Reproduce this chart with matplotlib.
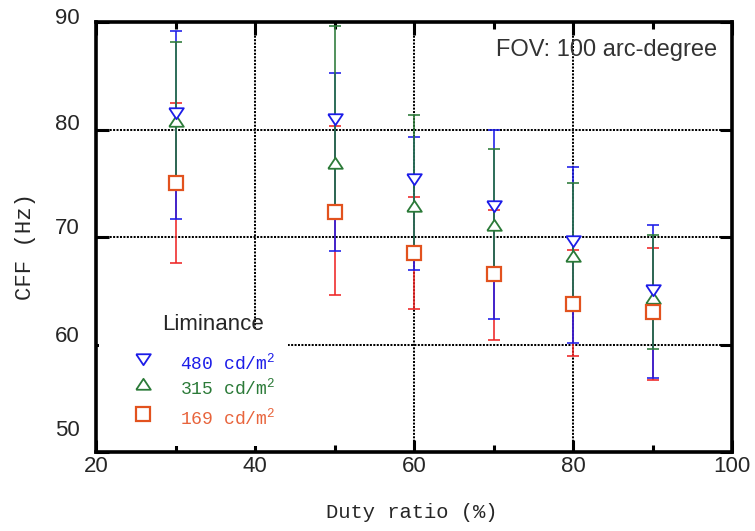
import matplotlib
matplotlib.use("Agg")
import matplotlib.pyplot as plt
from matplotlib.patches import Rectangle
from matplotlib.lines import Line2D
from matplotlib.transforms import blended_transform_factory, ScaledTranslation

# Critical flicker frequency vs duty ratio for three luminance levels
duty = [30, 50, 60, 70, 80, 90]

cff_480 = [81.5, 81.0, 75.4, 72.9, 69.6, 65.1]
hi_480 = [89.2, 85.3, 79.3, 80.0, 76.5, 71.1]
lo_480 = [71.7, 68.7, 66.9, 62.4, 60.1, 56.9]

cff_315 = [80.8, 76.9, 72.9, 71.1, 68.2, 64.3]
hi_315 = [88.1, 89.6, 81.35, 78.2, 75.0, 70.2]
lo_315 = [75.0, 72.5, 68.6, 66.7, 63.9, 59.6]

cff_169 = [75.0, 72.3, 68.5, 66.6, 63.8, 63.0]
hi_169 = [82.5, 80.3, 73.7, 72.5, 68.8, 69.0]
lo_169 = [67.6, 64.6, 63.3, 60.4, 58.9, 56.7]

legend_labels = ["480 cd/m", "315 cd/m", "169 cd/m"]
x_ticks = [20, 40, 60, 80, 100]
y_ticks = [50, 60, 70, 80, 90]

W, H = 755, 531
fig = plt.figure(figsize=(W / 100, H / 100), dpi=100)
fig.patch.set_facecolor("white")


def fx(px):
    return px / W


def fy(py):
    return 1 - py / H


ax = fig.add_axes([fx(96), fy(452), fx(732) - fx(96), fy(22) - fy(452)])
ax.set_xlim(20, 100)
ax.set_ylim(50, 90)

BLUE = "#1c1ce8"
GREEN = "#2b7a38"
RED_BAR = "#ee2626"
ORANGE = "#e2521e"
TXT = "#262626"

# grid
ax.set_xticks(x_ticks)
ax.set_xticks([30, 50, 70, 90], minor=True)
ax.set_yticks(y_ticks)
ax.grid(True, which="major", color="black", linestyle=(0, (1.0, 0.7)), linewidth=1.45)
ax.set_axisbelow(True)

for sp in ax.spines.values():
    sp.set_linewidth(2.6)
    sp.set_zorder(5)

ax.tick_params(which="major", direction="in", length=9, width=2.2,
               top=True, right=True, labelbottom=False, labelleft=False)
ax.tick_params(which="minor", direction="in", length=5, width=2.2,
               top=True, right=False, left=False, bottom=True)


def err(c, hi, lo):
    return [[m - l for m, l in zip(c, lo)], [h - m for m, h in zip(c, hi)]]


# error bars (red beneath blue beneath green)
for c, hi, lo, col, z in [(cff_169, hi_169, lo_169, RED_BAR, 2.0),
                          (cff_480, hi_480, lo_480, BLUE, 2.1),
                          (cff_315, hi_315, lo_315, GREEN, 2.2)]:
    ax.errorbar(duty, c, yerr=err(c, hi, lo), fmt="none", ecolor=col,
                elinewidth=1.15, capsize=4, capthick=1.15, zorder=z)

down_tri = [(-1, 0.72), (1, 0.72), (0, -0.78), (-1, 0.72)]
up_tri = [(-1, -0.72), (1, -0.72), (0, 0.78), (-1, -0.72)]

ax.plot(duty, cff_315, linestyle="none", marker=up_tri, markersize=10.5,
        markerfacecolor="white", markeredgecolor=GREEN, markeredgewidth=1.3, zorder=3)
ax.plot(duty, cff_480, linestyle="none", marker=down_tri, markersize=10.5,
        markerfacecolor="white", markeredgecolor=BLUE, markeredgewidth=1.3, zorder=3.1)
ax.plot(duty, cff_169, linestyle="none", marker="s", markersize=10.3,
        markerfacecolor="white", markeredgecolor=ORANGE, markeredgewidth=1.6, zorder=3.2)

# tick labels
ty = blended_transform_factory(fig.transFigure, ax.transData)
y_raise = {90: 4, 80: 5, 70: 8, 60: 8, 50: 21}
for v in y_ticks:
    ax.text(fx(80), v, str(v), transform=ty + ScaledTranslation(0, y_raise[v] / 100, fig.dpi_scale_trans),
            ha="right", va="center", fontsize=16, family="Liberation Sans", color=TXT, clip_on=False)
tx = blended_transform_factory(ax.transData, fig.transFigure)
for v in x_ticks:
    ax.text(v, fy(466), str(v), transform=tx, ha="center", va="center",
            fontsize=16, family="Liberation Sans", color=TXT, clip_on=False)

# axis labels
fig.text(fx(25), fy(246), "CFF (Hz)", rotation=90, ha="center", va="center",
         fontsize=16, family="Liberation Mono", color=TXT)
fig.text(fx(412), fy(512), "Duty ratio (%)", ha="center", va="center",
         fontsize=14.8, family="Liberation Mono", color=TXT)

# annotation
ax.text(fx(717), fy(50), "FOV: 100 arc-degree", transform=fig.transFigure,
        ha="right", va="center", fontsize=17, family="Liberation Sans", color="#333333")

# legend panel
ax.add_patch(Rectangle((fx(99), fy(446)), fx(288) - fx(99), fy(328) - fy(446),
                       transform=fig.transFigure, facecolor="white", edgecolor="none", zorder=1.8))
ax.text(fx(162), fy(324), "Liminance", transform=fig.transFigure, ha="left", va="center",
        fontsize=16, family="Liberation Sans", color=TXT, zorder=4)
entries = [(down_tri, BLUE, BLUE, 359, 1.3),
           (up_tri, GREEN, GREEN, 384, 1.3),
           ("s", ORANGE, "#e8643c", 414, 1.6)]
for (mk, mcol, tcol, ypx, mew), lab in zip(entries, legend_labels):
    ax.add_line(Line2D([fx(143)], [fy(ypx)], transform=fig.transFigure, linestyle="none",
                       marker=mk, markersize=10.5 if mk != "s" else 10.3,
                       markerfacecolor="white", markeredgecolor=mcol, markeredgewidth=mew, zorder=4))
    ax.text(fx(180), fy(ypx + 4), lab + r"$^\mathregular{2}$", transform=fig.transFigure,
            ha="left", va="center", fontsize=13, family="Liberation Mono", color=tcol, zorder=4)

fig.savefig("out.png", dpi=100, facecolor="white")
